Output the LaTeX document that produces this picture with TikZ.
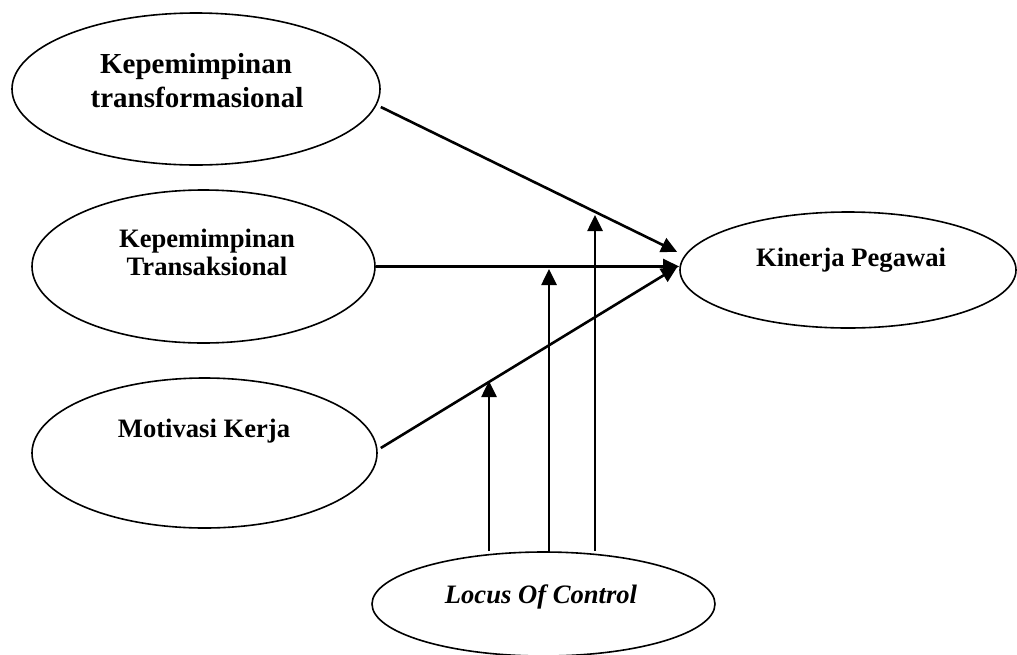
\documentclass[tikz,border=0pt]{standalone}
\usepackage{fontspec}
\setmainfont{Liberation Serif}
\usetikzlibrary{shapes.geometric,arrows.meta,calc}
\begin{document}
\begin{tikzpicture}[x=1pt,y=-1pt,
  oval/.style={draw,ellipse,inner sep=0pt,line width=1.6pt},
  lbl/.style={anchor=base,inner sep=0pt,font=\fontsize{26.6}{28}\selectfont\bfseries},
  biglbl/.style={anchor=base,inner sep=0pt,font=\fontsize{29}{34}\selectfont\bfseries},
  arr/.style={line width=2.6pt,-{Triangle[length=16pt,width=15pt]}}]
\useasboundingbox (0,0) rectangle (1017,654);
% ellipses
\node[oval,minimum width=368pt,minimum height=152pt] (tf) at (196,89) {};
\node[oval,minimum width=343pt,minimum height=153pt] (ts) at (203.5,266.5) {};
\node[oval,minimum width=345pt,minimum height=150pt] (mk) at (204.5,453) {};
\node[oval,minimum width=336pt,minimum height=116pt] (kp) at (848,270) {};
\node[oval,minimum width=343pt,minimum height=104pt] (loc) at (543.5,604) {};
% labels
\node[biglbl] (tf1) at (196,73) {Kepemimpinan};
\node[biglbl] (tf2) at (197,107) {transformasional};
\node[lbl] (ts1) at (207,247) {Kepemimpinan};
\node[lbl] (ts2) at (207,275) {Transaksional};
\node[lbl] (mkt) at (204,437) {Motivasi Kerja};
\node[lbl] (kpt) at (851,266) {Kinerja Pegawai};
\node[lbl,font=\fontsize{26.6}{28}\selectfont\bfseries\itshape] (loct) at (541,603) {Locus Of Control};
% main arrows
\draw[arr] ($(tf.east)+(0,18)$) -- ($(kp.west)+(-2,-18)$);
\draw[arr] (ts.east) -- (ts.east -| kp.west);
\draw[arr] ($(mk.east)+(3,-5)$) -- ($(kp.west)+(-2,-3)$);
% moderating arrows
\coordinate (v1) at (489,381);
\coordinate (v2) at (549,269);
\coordinate (v3) at (595,215);
\draw[arr] (v1 |- loc.north) -- (v1);
\draw[arr] (v2 |- loc.north) -- (v2);
\draw[arr] (v3 |- loc.north) -- (v3);
\end{tikzpicture}
\end{document}
